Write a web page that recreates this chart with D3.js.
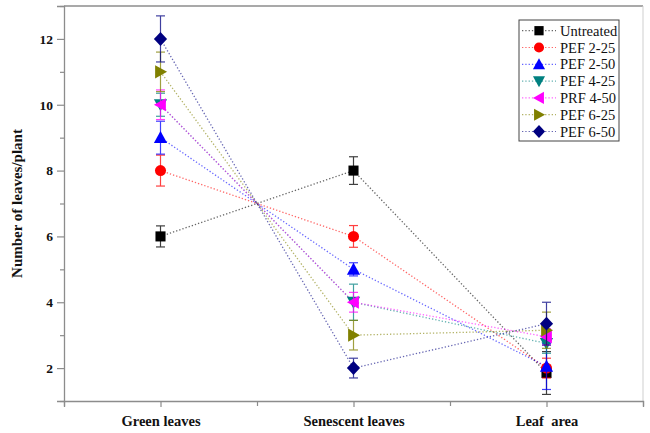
<!DOCTYPE html>
<html><head><meta charset="utf-8">
<script src="https://cdn.jsdelivr.net/npm/d3@7"></script>
<style>html,body{margin:0;padding:0;background:#fff;}svg{display:block;}svg text{font-family:"Liberation Serif","Times New Roman",serif !important;}</style>
</head><body><svg id="c" width="650" height="433"></svg>
<script>
const categories = ["Green leaves", "Senescent leaves", "Leaf  area"];
const seriesNames = ["Untreated", "PEF 2-25", "PEF 2-50", "PEF 4-25", "PRF 4-50", "PEF 6-25", "PEF 6-50"];
const untreated = [6, 8, 1.85];
const pef225 = [8, 6, 2.0];
const pef250 = [9, 5, 2.05];
const pef425 = [10, 4, 2.75];
const prf450 = [10, 4, 2.95];
const pef625 = [11, 3, 3.15];
const pef650 = [12, 2, 3.35];
const errUntreated = [0.32, 0.42, 0.65];
const errPef225 = [0.47, 0.33, 0.3];
const errPef250 = [0.5, 0.2, 0.7];
const errPef425 = [0.35, 0.55, 0.3];
const errPrf450 = [0.45, 0.3, 0.25];
const errPef625 = [0.6, 0.45, 0.55];
const errPef650 = [0.7, 0.3, 0.65];
const yTicks = [2, 4, 6, 8, 10, 12];

const values = [untreated, pef225, pef250, pef425, prf450, pef625, pef650];
const errors = [errUntreated, errPef225, errPef250, errPef425, errPrf450, errPef625, errPef650];
const colors = ["#000000", "#ff0000", "#0000ff", "#008080", "#ff00ff", "#808000", "#000080"];
const shapes = ["square", "circle", "up", "down", "left", "right", "diamond"];
const FONT = "'Liberation Serif', 'Times New Roman', serif";

const svg = d3.select("#c");
const L = 64, R = 643, T = 6, B = 401;
const x = d3.scaleLinear().domain([0.5, 3.5]).range([L, R]);
const y = d3.scaleLinear().domain([1, 13]).range([B, T]);

function markerPath(shape, s) {
  const p = d3.path();
  if (shape === "square") { p.rect(-s*0.42, -s*0.42, s*0.84, s*0.84); }
  else if (shape === "circle") { p.arc(0, 0, s*0.46, 0, 2*Math.PI); }
  else if (shape === "up") { p.moveTo(0,-s*0.55); p.lineTo(s*0.55,s*0.45); p.lineTo(-s*0.55,s*0.45); p.closePath(); }
  else if (shape === "down") { p.moveTo(0,s*0.55); p.lineTo(s*0.55,-s*0.45); p.lineTo(-s*0.55,-s*0.45); p.closePath(); }
  else if (shape === "left") { p.moveTo(-s*0.55,0); p.lineTo(s*0.45,-s*0.55); p.lineTo(s*0.45,s*0.55); p.closePath(); }
  else if (shape === "right") { p.moveTo(s*0.55,0); p.lineTo(-s*0.45,-s*0.55); p.lineTo(-s*0.45,s*0.55); p.closePath(); }
  else if (shape === "diamond") { p.moveTo(0,-s*0.58); p.lineTo(s*0.55,0); p.lineTo(0,s*0.58); p.lineTo(-s*0.55,0); p.closePath(); }
  return p.toString();
}

// frame
const frameColor = "#8c8c8c";
svg.append("line").attr("x1", L).attr("x2", R).attr("y1", T).attr("y2", T).attr("stroke", frameColor).attr("stroke-width", 1.3);
svg.append("line").attr("x1", R).attr("x2", R).attr("y1", T).attr("y2", B).attr("stroke", "#cfcfcf").attr("stroke-width", 1);

// y axis
const yAxis = d3.axisLeft(y).tickValues(yTicks).tickSize(7).tickPadding(4).tickFormat(d3.format("d"));
const gy = svg.append("g").attr("transform", `translate(${L},0)`).call(yAxis).attr("font-family", FONT);
gy.select(".domain").attr("stroke", frameColor).attr("stroke-width", 1.3);
gy.selectAll(".tick line").attr("stroke", frameColor).attr("stroke-width", 1.2);
gy.selectAll(".tick text").attr("font-size", 13.5).attr("fill", "#111").attr("font-weight", "bold");
const gyMinor = svg.append("g").attr("transform", `translate(${L},0)`).call(d3.axisLeft(y).tickValues([1,3,5,7,9,11,13]).tickSize(4).tickFormat(""));
gyMinor.select(".domain").remove();
gyMinor.selectAll(".tick line").attr("stroke", frameColor).attr("stroke-width", 1.2);

// x axis
const xAxis = d3.axisBottom(x).tickValues([1, 2, 3]).tickSize(6).tickPadding(9).tickFormat((d) => categories[d-1]);
const gx = svg.append("g").attr("transform", `translate(0,${B})`).call(xAxis).attr("font-family", FONT);
gx.select(".domain").attr("stroke", frameColor).attr("stroke-width", 1.3);
gx.selectAll(".tick line").attr("stroke", frameColor).attr("stroke-width", 1.2);
gx.selectAll(".tick text").attr("font-size", 14.5).attr("font-weight", "bold").attr("fill", "#111").style("white-space", "pre");
const gxMinor = svg.append("g").attr("transform", `translate(0,${B})`).call(d3.axisBottom(x).tickValues([0.5, 1.5, 2.5, 3.5]).tickSize(5).tickFormat(""));
gxMinor.select(".domain").remove();
gxMinor.selectAll(".tick line").attr("stroke", frameColor).attr("stroke-width", 1.2);

// y title
svg.append("text").attr("transform", `translate(22,${(T+B)/2}) rotate(-90)`).attr("text-anchor", "middle")
  .attr("font-family", FONT).attr("font-size", 15).attr("font-weight", "bold").attr("fill", "#111").text("Number of leaves/plant");

// series
const line = d3.line().x((d, i) => x(i + 1)).y((d) => y(d));
values.forEach((vals, si) => {
  svg.append("path").attr("d", line(vals)).attr("fill", "none").attr("stroke", colors[si])
    .attr("stroke-width", 1.3).attr("stroke-dasharray", "1.3,2").attr("opacity", 0.6);
});
values.forEach((vals, si) => {
  const g = svg.append("g");
  vals.forEach((v, i) => {
    const cx = x(i + 1), e = errors[si][i];
    const eg = g.append("g").attr("stroke", colors[si]).attr("stroke-width", 1.2).attr("opacity", 0.75);
    eg.append("line").attr("x1", cx).attr("x2", cx).attr("y1", y(v + e)).attr("y2", y(v - e));
    eg.append("line").attr("x1", cx - 4.5).attr("x2", cx + 4.5).attr("y1", y(v + e)).attr("y2", y(v + e));
    eg.append("line").attr("x1", cx - 4.5).attr("x2", cx + 4.5).attr("y1", y(v - e)).attr("y2", y(v - e));
  });
  g.selectAll("path.m").data(vals).join("path").attr("class", "m")
    .attr("transform", (d, i) => `translate(${x(i + 1)},${y(d)})`)
    .attr("d", markerPath(shapes[si], 12)).attr("fill", colors[si]);
});

// legend
const lg = svg.append("g");
lg.append("rect").attr("x", 519).attr("y", 20).attr("width", 100).attr("height", 121)
  .attr("fill", "#fff").attr("stroke", "#444").attr("stroke-width", 1);
const ly = d3.scaleLinear().domain([0, 6]).range([30.7, 131.5]);
seriesNames.forEach((name, si) => {
  const yy = ly(si);
  lg.append("line").attr("x1", 522).attr("x2", 556).attr("y1", yy).attr("y2", yy)
    .attr("stroke", colors[si]).attr("stroke-width", 1.2).attr("stroke-dasharray", "1.3,2").attr("opacity", 0.6);
  lg.append("path").attr("transform", `translate(539,${yy})`).attr("d", markerPath(shapes[si], 11)).attr("fill", colors[si]);
  lg.append("text").attr("x", 560).attr("y", yy).attr("dy", "0.35em").attr("font-family", FONT)
    .attr("font-size", 14.5).attr("fill", "#111").text(name);
});
</script></body></html>
